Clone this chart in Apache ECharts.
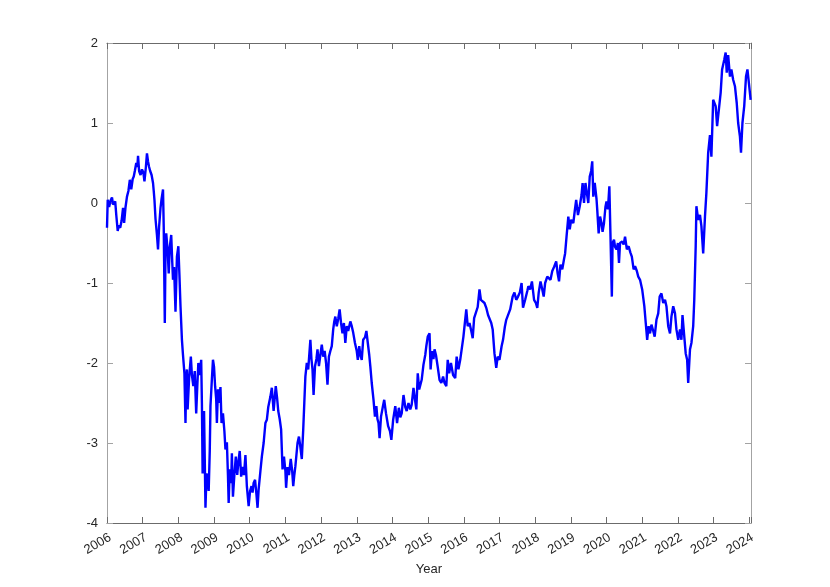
<!DOCTYPE html>
<html>
<head>
<meta charset="utf-8">
<title>Index by year</title>
<script src="https://cdn.jsdelivr.net/npm/echarts@6/dist/echarts.min.js"></script>
<style>
    html, body { margin: 0; padding: 0; background: #fff; }
    #chartLine { width: 830px; height: 587px; }
</style>
</head>
<body>
<div id="chartLine"></div>
<script>
    // values, [decimal year, value]
    var part2006 = [
        [2006.00,-0.31],[2006.02,0.04],[2006.06,-0.05],[2006.10,0.03],[2006.14,0.07],[2006.17,-0.02],
        [2006.20,-0.04],[2006.23,0.02],[2006.26,-0.15],[2006.30,-0.35],[2006.33,-0.28],[2006.37,-0.31],
        [2006.41,-0.22],[2006.45,-0.06],[2006.48,-0.25],[2006.52,-0.05],[2006.56,0.08],[2006.60,0.15],
        [2006.64,0.29],[2006.68,0.17],[2006.72,0.30],[2006.75,0.33],[2006.78,0.40],[2006.82,0.50],
        [2006.85,0.45],[2006.87,0.59],[2006.90,0.40],[2006.94,0.35],[2006.98,0.42],[2007.02,0.38],
        [2007.05,0.27],[2007.09,0.45],[2007.12,0.62],[2007.15,0.52],[2007.18,0.45],[2007.21,0.40],
        [2007.25,0.35],[2007.29,0.25],[2007.31,0.15],[2007.33,0.04],[2007.36,-0.20],[2007.40,-0.40],
        [2007.43,-0.58],[2007.46,-0.30],[2007.50,-0.06],[2007.53,0.05],[2007.57,0.17],[2007.59,-0.30],
        [2007.62,-1.50],[2007.64,-0.60],[2007.66,-0.38],[2007.70,-0.60],[2007.73,-0.88],[2007.76,-0.55],
        [2007.80,-0.40],[2007.83,-0.75],[2007.85,-0.96],[2007.88,-0.80],[2007.92,-1.36],[2007.96,-0.67],
        [2008.00,-0.54],[2008.03,-0.90],[2008.06,-1.29],[2008.10,-1.71],[2008.13,-1.90],[2008.17,-2.13],
        [2008.20,-2.75],[2008.22,-2.20],[2008.24,-2.08],[2008.26,-2.58],[2008.30,-2.20],[2008.35,-1.92],
        [2008.38,-2.15],[2008.42,-2.29],[2008.46,-2.10],[2008.50,-2.63],[2008.53,-2.30],[2008.56,-2.00],
        [2008.60,-2.15],[2008.64,-1.96],[2008.66,-2.50],[2008.68,-3.38],[2008.70,-2.90],[2008.72,-2.60],
        [2008.74,-3.20],[2008.76,-3.81],[2008.79,-3.38],[2008.82,-3.45],[2008.85,-3.60],[2008.88,-3.10],
        [2008.90,-2.54],[2008.94,-2.20],[2008.97,-1.96]
    ];
    var part2009 = [
        [2009.00,-2.05],[2009.03,-2.29],[2009.06,-2.45],[2009.08,-2.75],[2009.11,-2.33],[2009.14,-2.50],
        [2009.18,-2.30],[2009.21,-2.75],[2009.25,-2.63],[2009.29,-2.85],[2009.32,-3.08],[2009.36,-2.99],
        [2009.39,-3.40],[2009.41,-3.75],[2009.44,-3.33],[2009.48,-3.50],[2009.50,-3.13],[2009.53,-3.67],
        [2009.57,-3.40],[2009.61,-3.17],[2009.65,-3.40],[2009.68,-3.25],[2009.72,-3.10],[2009.76,-3.42],
        [2009.80,-3.30],[2009.84,-3.40],[2009.88,-3.15],[2009.92,-3.54],[2009.97,-3.79],[2010.01,-3.60],
        [2010.05,-3.54],[2010.08,-3.62],[2010.11,-3.50],[2010.15,-3.46],[2010.19,-3.65],[2010.22,-3.81],
        [2010.25,-3.58],[2010.30,-3.35],[2010.34,-3.17],[2010.39,-3.00],[2010.44,-2.75],[2010.48,-2.71],
        [2010.52,-2.55],[2010.58,-2.42],[2010.62,-2.31],[2010.67,-2.60],[2010.73,-2.29],[2010.77,-2.45],
        [2010.80,-2.60],[2010.84,-2.70],[2010.88,-2.83],[2010.92,-3.33],[2010.96,-3.17],[2011.00,-3.35],
        [2011.02,-3.56],[2011.06,-3.30],[2011.10,-3.40],[2011.15,-3.20],[2011.19,-3.35],[2011.22,-3.54],
        [2011.25,-3.40],[2011.28,-3.29],[2011.34,-3.00],[2011.38,-2.92],[2011.42,-3.05],[2011.46,-3.20],
        [2011.50,-2.83],[2011.53,-2.50],[2011.56,-2.17],[2011.60,-2.00],[2011.64,-2.08],[2011.70,-1.71],
        [2011.73,-1.95],[2011.76,-2.08],[2011.79,-2.40],[2011.83,-2.04],[2011.87,-1.95],[2011.90,-1.83],
        [2011.94,-2.04],[2011.98,-1.90]
    ];
    var part2012 = [
        [2012.02,-1.77],[2012.06,-1.92],[2012.10,-1.85],[2012.14,-2.00],[2012.18,-2.27],[2012.22,-1.92],
        [2012.26,-1.85],[2012.30,-1.79],[2012.34,-1.58],[2012.37,-1.48],[2012.40,-1.42],[2012.44,-1.54],
        [2012.48,-1.45],[2012.52,-1.33],[2012.56,-1.50],[2012.60,-1.63],[2012.64,-1.50],[2012.68,-1.75],
        [2012.72,-1.54],[2012.76,-1.60],[2012.82,-1.48],[2012.86,-1.54],[2012.90,-1.62],[2012.95,-1.75],
        [2013.00,-1.85],[2013.03,-1.96],[2013.07,-1.79],[2013.10,-1.90],[2013.14,-1.96],[2013.18,-1.71],
        [2013.23,-1.68],[2013.27,-1.60],[2013.31,-1.75],[2013.35,-1.90],[2013.38,-2.04],[2013.42,-2.25],
        [2013.47,-2.46],[2013.51,-2.67],[2013.55,-2.54],[2013.58,-2.70],[2013.61,-2.75],[2013.64,-2.94],
        [2013.68,-2.67],[2013.73,-2.55],[2013.77,-2.46],[2013.82,-2.63],[2013.88,-2.79],[2013.93,-2.85],
        [2013.97,-2.96],[2014.02,-2.71],[2014.08,-2.54],[2014.13,-2.75],[2014.18,-2.56],[2014.22,-2.68],
        [2014.26,-2.63],[2014.31,-2.40],[2014.36,-2.55],[2014.40,-2.60],[2014.45,-2.50],[2014.50,-2.58],
        [2014.54,-2.52],[2014.59,-2.31],[2014.63,-2.45],[2014.67,-2.58],[2014.71,-2.13],[2014.75,-2.33],
        [2014.82,-2.21],[2014.87,-2.02],[2014.92,-1.90],[2014.95,-1.79],[2014.99,-1.67]
    ];
    var part2015 = [
        [2015.04,-1.63],[2015.07,-2.08],[2015.11,-1.85],[2015.15,-1.95],[2015.18,-1.83],[2015.22,-1.90],
        [2015.27,-2.05],[2015.32,-2.21],[2015.37,-2.25],[2015.42,-2.17],[2015.46,-2.25],[2015.51,-2.29],
        [2015.55,-1.96],[2015.59,-2.13],[2015.64,-2.00],[2015.70,-2.15],[2015.76,-2.19],[2015.80,-1.92],
        [2015.85,-2.08],[2015.90,-1.96],[2015.94,-1.96],[2015.99,-1.67],[2016.03,-1.50],[2016.07,-1.33],
        [2016.11,-1.54],[2016.16,-1.50],[2016.21,-1.60],[2016.25,-1.69],[2016.29,-1.44],[2016.34,-1.46],
        [2016.39,-1.30],[2016.44,-1.08],[2016.48,-1.21],[2016.53,-1.19],[2016.58,-1.25],[2016.63,-1.31],
        [2016.68,-1.40],[2016.72,-1.42],[2016.77,-1.50],[2016.81,-1.58],[2016.86,-1.88],[2016.91,-2.06],
        [2016.95,-1.92],[2017.00,-1.96],[2017.06,-1.79],[2017.10,-1.71],[2017.15,-1.55],[2017.19,-1.46],
        [2017.24,-1.48],[2017.30,-1.33],[2017.37,-1.17],[2017.42,-1.12],[2017.47,-1.21],[2017.52,-1.17],
        [2017.57,-1.12],[2017.62,-1.00],[2017.66,-1.31],[2017.72,-1.21],[2017.78,-1.10],[2017.81,-1.04],
        [2017.86,-1.08],[2017.91,-0.98],[2017.97,-1.21]
    ];
    var part2018 = [
        [2018.02,-1.25],[2018.06,-1.31],[2018.10,-1.12],[2018.15,-0.98],[2018.20,-1.08],[2018.24,-1.17],
        [2018.28,-1.00],[2018.34,-0.92],[2018.38,-0.90],[2018.43,-0.96],[2018.48,-0.85],[2018.53,-0.80],
        [2018.59,-0.73],[2018.63,-0.88],[2018.67,-0.98],[2018.71,-0.77],[2018.76,-0.83],[2018.81,-0.70],
        [2018.84,-0.63],[2018.88,-0.42],[2018.93,-0.17],[2018.97,-0.33],[2019.01,-0.21],[2019.07,-0.25],
        [2019.11,-0.10],[2019.15,0.04],[2019.20,-0.15],[2019.25,-0.04],[2019.30,0.10],[2019.33,0.25],
        [2019.37,0.00],[2019.41,0.25],[2019.45,0.12],[2019.49,0.00],[2019.53,0.33],[2019.57,0.40],
        [2019.60,0.52],[2019.63,0.08],[2019.67,0.25],[2019.72,0.05],[2019.74,-0.08],[2019.78,-0.38],
        [2019.82,-0.17],[2019.86,-0.25],[2019.89,-0.36],[2019.93,-0.25],[2019.97,-0.05],[2020.00,0.02],
        [2020.04,-0.08],[2020.08,0.21],[2020.11,-0.38],[2020.15,-1.17],[2020.17,-0.50],[2020.21,-0.46],
        [2020.24,-0.55],[2020.28,-0.58],[2020.32,-0.50],[2020.35,-0.75],[2020.38,-0.50],[2020.44,-0.48],
        [2020.48,-0.52],[2020.52,-0.42],[2020.57,-0.58],[2020.62,-0.54],[2020.67,-0.62],[2020.71,-0.67],
        [2020.76,-0.83],[2020.80,-0.79],[2020.85,-0.85],[2020.89,-0.92],[2020.94,-0.96],[2021.00,-1.08]
    ];
    var part2021 = [
        [2021.06,-1.29],[2021.10,-1.50],[2021.14,-1.71],[2021.18,-1.54],[2021.22,-1.63],[2021.26,-1.52],
        [2021.31,-1.60],[2021.35,-1.67],[2021.40,-1.46],[2021.45,-1.38],[2021.49,-1.17],[2021.54,-1.13],
        [2021.59,-1.25],[2021.64,-1.21],[2021.68,-1.29],[2021.73,-1.54],[2021.78,-1.63],[2021.82,-1.42],
        [2021.87,-1.29],[2021.92,-1.38],[2021.96,-1.58],[2022.01,-1.71],[2022.06,-1.58],[2022.10,-1.71],
        [2022.13,-1.40],[2022.18,-1.67],[2022.22,-1.88],[2022.26,-1.96],[2022.29,-2.25],[2022.34,-1.83],
        [2022.38,-1.75],[2022.43,-1.54],[2022.46,-1.21],[2022.50,-0.54],[2022.52,-0.04],[2022.57,-0.21],
        [2022.62,-0.15],[2022.66,-0.29],[2022.71,-0.63],[2022.76,-0.17],[2022.80,0.13],[2022.85,0.63],
        [2022.90,0.85],[2022.94,0.58],[2022.99,1.29],[2023.06,1.21],[2023.10,0.96],[2023.15,1.17],
        [2023.20,1.38],[2023.24,1.67],[2023.30,1.79],[2023.34,1.88],[2023.37,1.63],[2023.41,1.85],
        [2023.46,1.58],[2023.50,1.67],[2023.55,1.54],[2023.60,1.46],[2023.65,1.25],[2023.69,1.00],
        [2023.74,0.83],[2023.77,0.63],[2023.81,1.00],[2023.86,1.21],[2023.91,1.58],[2023.95,1.67],
        [2024.00,1.46],[2024.04,1.29]
    ];
    var yearMin = 2006, yearMax = 2024.05;
    var valueMin = -4, valueMax = 2;

    var lineData = part2006.concat(part2009, part2012, part2015, part2018, part2021);

    var font = 'Liberation Sans, Arial, Helvetica, sans-serif';
    var xColor = '#6b6b6b';
    var yColor = '#a3a3a3';

    function xAxisOf(pos, showLabels) {
        return {
            type: 'value',
            position: pos,
            min: yearMin,
            max: yearMax,
            interval: 1,
            name: showLabels ? 'Year' : '',
            nameLocation: 'middle',
            nameGap: 34,
            nameTextStyle: { fontFamily: font, fontSize: 13, color: '#262626' },
            splitLine: { show: false },
            axisLine: { show: true, onZero: false, lineStyle: { color: xColor, width: 1 } },
            axisTick: { show: true, inside: true, length: 6, lineStyle: { color: xColor } },
            axisLabel: {
                show: showLabels,
                rotate: 30,
                margin: 8,
                align: 'right',
                verticalAlign: 'top',
                fontFamily: font,
                fontSize: 13,
                color: '#262626',
                showMaxLabel: true,
                formatter: function (v) { return Math.abs(v - Math.round(v)) < 1e-6 ? String(Math.round(v)) : ''; }
            }
        };
    }

    function yAxisOf(pos, showLabels) {
        return {
            type: 'value',
            position: pos,
            min: valueMin,
            max: valueMax,
            interval: 1,
            splitLine: { show: false },
            axisLine: { show: true, onZero: false, lineStyle: { color: yColor, width: 1 } },
            axisTick: { show: true, inside: true, length: 6, lineStyle: { color: yColor } },
            axisLabel: { show: showLabels, margin: 9, fontFamily: font, fontSize: 13, color: '#262626' }
        };
    }

    var chartLine = echarts.init(document.getElementById('chartLine'), null, { renderer: 'canvas' });
    chartLine.setOption({
        animation: false,
        backgroundColor: '#fff',
        grid: { left: 107, right: 79, top: 43, bottom: 64, containLabel: false },
        xAxis: [xAxisOf('bottom', true), xAxisOf('top', false)],
        yAxis: [yAxisOf('left', true), yAxisOf('right', false)],
        series: [{
            type: 'line',
            xAxisIndex: 0,
            yAxisIndex: 0,
            data: lineData,
            showSymbol: false,
            clip: true,
            lineStyle: { color: '#0000ff', width: 2.4 }
        }]
    });
</script>
</body>
</html>
